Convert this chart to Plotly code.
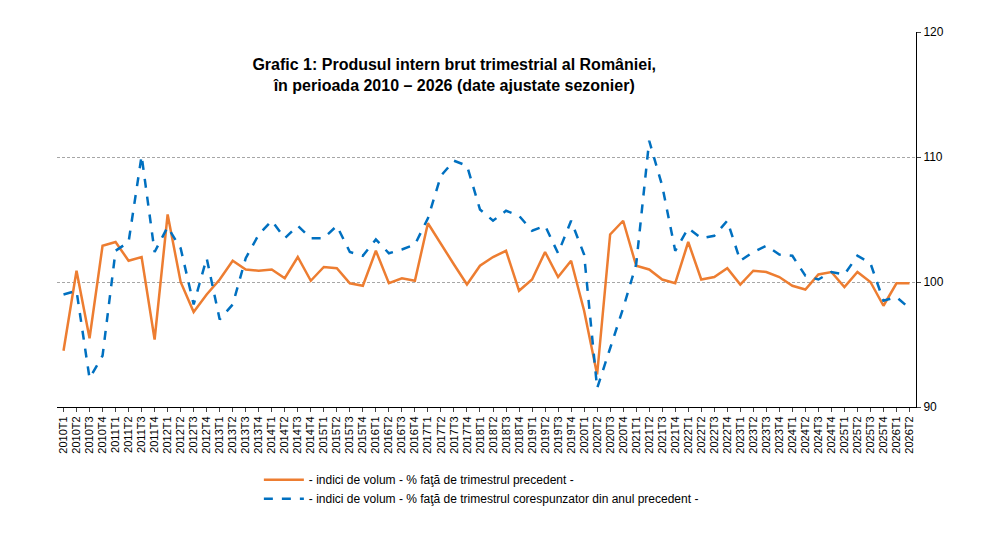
import plotly.graph_objects as go

quarters = [f"{y}T{q}" for y in range(2010, 2027) for q in range(1, 5)][:66]

qoq = [94.5, 100.9, 95.5, 102.9, 103.2, 101.7, 102.0, 95.4, 105.4, 100.0,
       97.6, 99.0, 100.2, 101.7, 101.0, 100.9, 101.0, 100.3, 102.0, 100.1,
       101.2, 101.1, 99.9, 99.7, 102.5, 99.9, 100.3, 100.1, 104.7, 103.0,
       101.4, 99.8, 101.3, 102.0,
       102.5, 99.3, 100.2, 102.4, 100.4, 101.7, 97.7, 92.6, 103.8, 104.9,
       101.3, 101.0, 100.2, 99.9, 103.2, 100.2, 100.4, 101.1, 99.8, 100.9,
       100.8, 100.4, 99.7, 99.4, 100.6, 100.8, 99.6, 100.8, 100.0, 98.1,
       99.9, 99.9]

yoy = [99.0, 99.3, 92.3, 94.1, 102.5, 103.2, 110.1, 102.4, 104.4, 102.7,
       98.2, 101.9, 97.0, 98.2, 101.9, 103.8, 104.9, 103.5, 104.5, 103.5,
       103.5, 104.5, 102.4, 102.1, 103.4, 102.3, 102.6, 103.0, 105.1, 108.5,
       109.7, 109.3, 105.8, 104.9,
       105.7, 105.3, 104.1, 104.5, 102.3, 104.9, 102.2, 91.5, 94.7, 97.9,
       101.4, 111.3, 107.7, 102.5, 104.3, 103.5, 103.7, 104.9, 101.7, 102.4,
       102.9, 102.2, 102.1, 100.5, 100.2, 100.8, 100.6, 102.1, 101.5, 98.5,
       98.8, 97.9]

fig = go.Figure()
fig.add_trace(go.Scatter(x=quarters, y=qoq, mode="lines",
                         name="- indici de volum - % faţă de trimestrul precedent -",
                         line=dict(color="#ED7D31", width=2.5)))
fig.add_trace(go.Scatter(x=quarters, y=yoy, mode="lines",
                         name="- indici de volum - % faţă de trimestrul corespunzator din anul precedent -",
                         line=dict(color="#0070C0", width=2.5, dash="dash")))

fig.update_layout(
    width=996, height=541,
    margin=dict(l=49, r=88, t=24, b=142, autoexpand=False),
    plot_bgcolor="white", paper_bgcolor="white",
    font=dict(family="Arial, Liberation Sans", size=12, color="black"),
    title=dict(text="<b>Grafic 1: Produsul intern brut trimestrial al României,<br>în perioada 2010 – 2026 (date ajustate sezonier)</b>",
               x=0.448, xanchor="center", y=0.885, yanchor="middle",
               font=dict(size=16)),
    showlegend=True,
    legend=dict(x=0.235, y=-0.155, xanchor="left", yanchor="top",
                orientation="v", tracegroupgap=18, font=dict(size=12),
                itemwidth=40),
    xaxis=dict(type="category", tickangle=-90, tickfont=dict(size=11),
               showline=True, linecolor="black", ticks="outside",
               ticklen=4, showgrid=False, range=[-0.5, 65.5], automargin=False),
    yaxis=dict(side="right", range=[90, 120], dtick=10, automargin=False,
               showline=True, linecolor="black", ticks="outside", ticklen=4,
               showgrid=True, gridcolor="#A6A6A6", griddash="3px,2px",
               tickfont=dict(size=12), zeroline=False),
)

fig.write_html("out.html")
